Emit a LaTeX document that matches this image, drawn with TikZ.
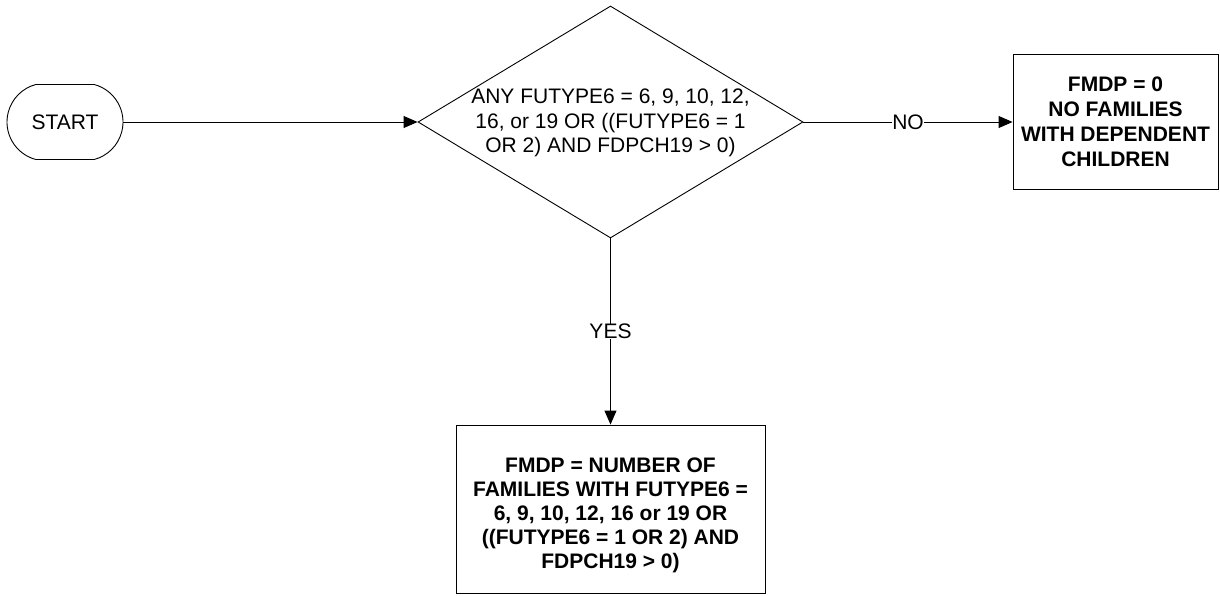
\documentclass[tikz,border=0pt]{standalone}
\usepackage{fontspec}
\setmainfont{Liberation Sans}
\usetikzlibrary{shapes.geometric,shapes.misc,arrows.meta}
\begin{document}
\begin{tikzpicture}[x=1pt,y=-1pt,
  every node/.style={font=\fontsize{21pt}{24.5pt}\selectfont},
  conn/.style={line width=0.9pt,-{Triangle[length=14pt,width=12pt]}},
  shapeline/.style={draw,line width=0.9pt,inner sep=0pt},
  lbl/.style={fill=white,inner sep=0.5pt}]
\useasboundingbox (0,0) rectangle (1220,595);
\node[shapeline,rounded rectangle,rounded rectangle arc length=150,
      minimum width=116pt,minimum height=75pt] (start) at (65,122) {START};
\node[shapeline,diamond,minimum width=385pt,minimum height=232pt] (dec) at (610.5,122) {};
\node[align=center,inner sep=0pt] (dectext) at (610.5,123)
  {ANY FUTYPE6 = 6, 9, 10, 12,\\16, or 19 OR ((FUTYPE6 = 1\\OR 2) AND FDPCH19 > 0)};
\node[shapeline,rectangle,minimum width=205pt,minimum height=135pt] (nobox) at (1115.5,122) {};
\node[align=center,inner sep=0pt,font=\fontsize{21pt}{25pt}\selectfont\bfseries] (notext) at (1115.5,122)
  {FMDP = 0\\NO FAMILIES\\WITH DEPENDENT\\CHILDREN};
\node[shapeline,rectangle,minimum width=309pt,minimum height=168pt] (yesbox) at (610.5,509) {};
\node[align=center,inner sep=0pt,font=\fontsize{21pt}{24pt}\selectfont\bfseries] (yestext) at (610.5,515)
  {FMDP = NUMBER OF\\FAMILIES WITH FUTYPE6 =\\6, 9, 10, 12, 16 or 19 OR\\((FUTYPE6 = 1 OR 2) AND\\FDPCH19 > 0)};
\draw[conn] (start.east) -- (dec.west);
\draw[conn] (dec.east) -- node[lbl] {NO} (nobox.west);
\draw[conn] (dec.south) -- node[lbl] {YES} (yesbox.north);
\end{tikzpicture}
\end{document}
